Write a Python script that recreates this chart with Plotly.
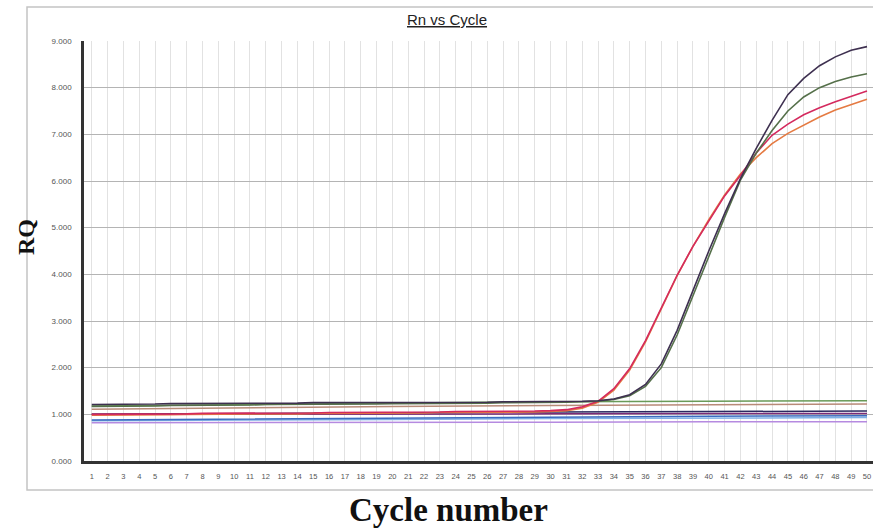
import plotly.graph_objects as go

# ---- data -------------------------------------------------------------
cycles = list(range(1, 51))
cycle_labels = [str(c) for c in cycles]
rq_ticks = [0, 1, 2, 3, 4, 5, 6, 7, 8, 9]

# amplifying samples (value per cycle)
amp_purple = [1.21, 1.21, 1.22, 1.22, 1.22, 1.23, 1.23, 1.23, 1.23, 1.24,
              1.24, 1.24, 1.24, 1.24, 1.25, 1.25, 1.25, 1.25, 1.25, 1.25,
              1.26, 1.26, 1.26, 1.26, 1.26, 1.26, 1.27, 1.27, 1.27, 1.27,
              1.28, 1.28, 1.29, 1.33, 1.42, 1.64, 2.08, 2.80, 3.65, 4.50,
              5.30, 6.05, 6.70, 7.30, 7.85, 8.20, 8.47, 8.66, 8.80, 8.88]
amp_green = [1.17, 1.17, 1.18, 1.18, 1.18, 1.19, 1.19, 1.19, 1.20, 1.20,
             1.20, 1.21, 1.21, 1.21, 1.21, 1.22, 1.22, 1.22, 1.22, 1.23,
             1.23, 1.23, 1.23, 1.24, 1.24, 1.24, 1.25, 1.25, 1.25, 1.26,
             1.26, 1.27, 1.28, 1.32, 1.40, 1.60, 2.00, 2.70, 3.55, 4.40,
             5.22, 6.02, 6.60, 7.08, 7.50, 7.80, 8.00, 8.13, 8.23, 8.30]
amp_magenta = [1.00, 1.00, 1.00, 1.01, 1.01, 1.01, 1.01, 1.02, 1.02, 1.02,
               1.02, 1.03, 1.03, 1.03, 1.03, 1.04, 1.04, 1.04, 1.04, 1.05,
               1.05, 1.05, 1.05, 1.06, 1.06, 1.06, 1.06, 1.07, 1.07, 1.08,
               1.10, 1.16, 1.28, 1.55, 1.98, 2.58, 3.28, 3.98, 4.60, 5.15,
               5.68, 6.12, 6.60, 6.98, 7.22, 7.42, 7.57, 7.70, 7.82, 7.93]
amp_orange = [0.98, 0.98, 0.99, 0.99, 0.99, 0.99, 1.00, 1.00, 1.00, 1.00,
              1.01, 1.01, 1.01, 1.01, 1.02, 1.02, 1.02, 1.02, 1.03, 1.03,
              1.03, 1.03, 1.04, 1.04, 1.04, 1.04, 1.05, 1.05, 1.05, 1.06,
              1.08, 1.13, 1.26, 1.52, 1.95, 2.55, 3.25, 3.97, 4.60, 5.17,
              5.70, 6.15, 6.50, 6.80, 7.02, 7.20, 7.37, 7.52, 7.64, 7.75]

# non-amplifying samples (read at a few cycles)
base_cycles = [1, 10, 20, 30, 40, 50]
flat_green = [1.18, 1.21, 1.24, 1.27, 1.28, 1.29]
flat_tan = [1.11, 1.14, 1.17, 1.19, 1.21, 1.22]
flat_navy = [1.00, 1.02, 1.03, 1.05, 1.06, 1.07]
flat_maroon = [1.00, 1.00, 1.01, 1.01, 1.02, 1.02]
flat_blue = [0.88, 0.90, 0.92, 0.94, 0.96, 0.97]
flat_skyblue = [0.86, 0.87, 0.89, 0.91, 0.92, 0.93]
flat_lilac = [0.82, 0.82, 0.83, 0.83, 0.84, 0.84]

# ---- figure -----------------------------------------------------------
fig = go.Figure()

flat_series = [
    (flat_lilac, "#b58ae0"),
    (flat_skyblue, "#7fb0e6"),
    (flat_blue, "#3a6cc0"),
    (flat_maroon, "#7a2a78"),
    (flat_navy, "#2a2a60"),
    (flat_tan, "#b88a78"),
    (flat_green, "#6a9a58"),
]
for vals, col in flat_series:
    fig.add_trace(go.Scatter(x=base_cycles, y=vals, mode="lines",
                             line=dict(color=col, width=1.5),
                             hoverinfo="skip"))

amp_series = [
    (amp_orange, "#e57a42"),
    (amp_magenta, "#d42a5e"),
    (amp_green, "#55704a"),
    (amp_purple, "#3e3050"),
]
for vals, col in amp_series:
    fig.add_trace(go.Scatter(x=cycles, y=vals, mode="lines",
                             line=dict(color=col, width=1.6),
                             hoverinfo="skip"))

L, T, B = 84, 41, 68
W, H = 873, 529
pw = W - L
ph = H - T - B


def px(xp):
    return (xp - L) / pw


def py(yp):
    return (H - B - yp) / ph


fig.update_layout(
    width=W, height=H,
    margin=dict(l=L, r=0, t=T, b=B),
    paper_bgcolor="white",
    plot_bgcolor="white",
    showlegend=False,
    font=dict(family="Liberation Sans, Arial, sans-serif", color="#444"),
    xaxis=dict(
        range=[0.51, 50.38],
        tickmode="array", tickvals=cycles, ticktext=cycle_labels,
        tickfont=dict(size=7.5, color="#555"),
        ticks="", ticklabelstandoff=6,
        showgrid=True, gridcolor="#e2e2e2", gridwidth=1,
        zeroline=False,
        showline=True, linecolor="#333", linewidth=2.5,
    ),
    yaxis=dict(
        range=[0, 9],
        tickmode="array", tickvals=rq_ticks,
        ticktext=[f"{v:.3f}" for v in rq_ticks],
        tickfont=dict(size=8, color="#555"),
        ticks="", ticklabelstandoff=8,
        showgrid=True, gridcolor="#b4b4b4", gridwidth=1,
        zeroline=False,
        showline=True, linecolor="#333", linewidth=2.5,
    ),
    shapes=[
        dict(type="rect", xref="paper", yref="paper",
             x0=px(27), x1=px(880), y0=py(490), y1=py(7),
             line=dict(color="#c4c4c4", width=1.5), layer="below"),
    ],
    annotations=[
        dict(text="<u>Rn vs Cycle</u>", xref="paper", yref="paper",
             x=px(447), y=py(20), xanchor="center", yanchor="middle",
             showarrow=False,
             font=dict(family="Liberation Sans, Arial, sans-serif",
                       size=15, color="#222")),
        dict(text="<b>Cycle number</b>", xref="paper", yref="paper",
             x=px(448), y=py(510), xanchor="center", yanchor="middle",
             showarrow=False,
             font=dict(family="Liberation Serif, Times New Roman, serif",
                       size=33, color="#111")),
        dict(text="<b>RQ</b>", xref="paper", yref="paper",
             x=px(26), y=py(237), xanchor="center", yanchor="middle",
             showarrow=False, textangle=-90,
             font=dict(family="Liberation Serif, Times New Roman, serif",
                       size=24, color="#111")),
    ],
)

fig.write_html("out.html")
